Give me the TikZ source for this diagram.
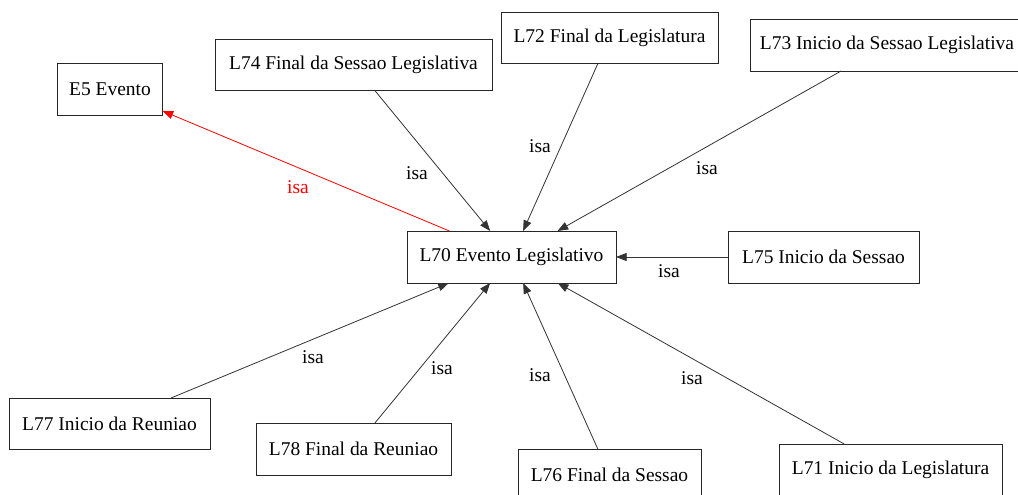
\documentclass[tikz,border=0pt]{standalone}
\usepackage{fontspec}
\setmainfont{Liberation Serif}
\usetikzlibrary{arrows.meta}
\begin{document}
\begin{tikzpicture}[x=0.75pt,y=-0.75pt,
  box/.style={draw=black!85,line width=0.75pt,rectangle,inner sep=0pt,outer sep=0pt,
    font=\fontsize{14.6}{16}\selectfont},
  edge/.style={line width=0.6pt,draw=black!80,-{Triangle[length=8pt,width=6pt]}},
  redge/.style={line width=0.6pt,draw=red,-{Triangle[length=8pt,width=6pt]}},
  lab/.style={inner sep=0pt,font=\fontsize{14.6}{16}\selectfont}]
\fill[white] (0,0) rectangle (1018,494);
\useasboundingbox (0,0) rectangle (1018,494);
\node[box,minimum width=78.75pt,minimum height=39pt] (e5) at (110,89) {E5 Evento};
\node[box,minimum width=207.75pt,minimum height=38.25pt] (l74) at (353.5,64.5) {L74 Final da Sessao Legislativa};
\node[box,minimum width=162.75pt,minimum height=38.25pt] (l72) at (609.5,37.5) {L72 Final da Legislatura};
\node[box,minimum width=205.5pt,minimum height=39pt] (l73) at (887,45) {L73 Inicio da Sessao Legislativa};
\node[box,minimum width=156.75pt,minimum height=39pt] (l70) at (511.5,257) {L70 Evento Legislativo};
\node[box,minimum width=143.25pt,minimum height=39pt] (l75) at (823.5,257) {L75 Inicio da Sessao};
\node[box,minimum width=150.75pt,minimum height=38.25pt] (l77) at (109.5,423.5) {L77 Inicio da Reuniao};
\node[box,minimum width=146.25pt,minimum height=39pt] (l78) at (353.5,449) {L78 Final da Reuniao};
\node[box,minimum width=137.25pt,minimum height=39pt] (l76) at (609.5,475) {L76 Final da Sessao};
\node[box,minimum width=167.25pt,minimum height=39pt] (l71) at (890.5,470) {L71 Inicio da Legislatura};
\draw[redge] (l70) -- (e5);
\draw[edge] (l74) -- (l70);
\draw[edge] (l72) -- (l70);
\draw[edge] (l73) -- (l70);
\draw[edge] (l75) -- (l70);
\draw[edge] (l76) -- (l70);
\draw[edge] (l71) -- (l70);
\draw[edge] (l77) -- (l70);
\draw[edge] (l78) -- (l70);
\node[lab,text=red] (t1) at (298,187) {isa};
\node[lab] (t2) at (417,173) {isa};
\node[lab] (t3) at (540,146) {isa};
\node[lab] (t4) at (707,168) {isa};
\node[lab] (t5) at (669,271) {isa};
\node[lab] (t6) at (540,375) {isa};
\node[lab] (t7) at (692,378) {isa};
\node[lab] (t8) at (313,357) {isa};
\node[lab] (t9) at (442,368) {isa};
\end{tikzpicture}
\end{document}
